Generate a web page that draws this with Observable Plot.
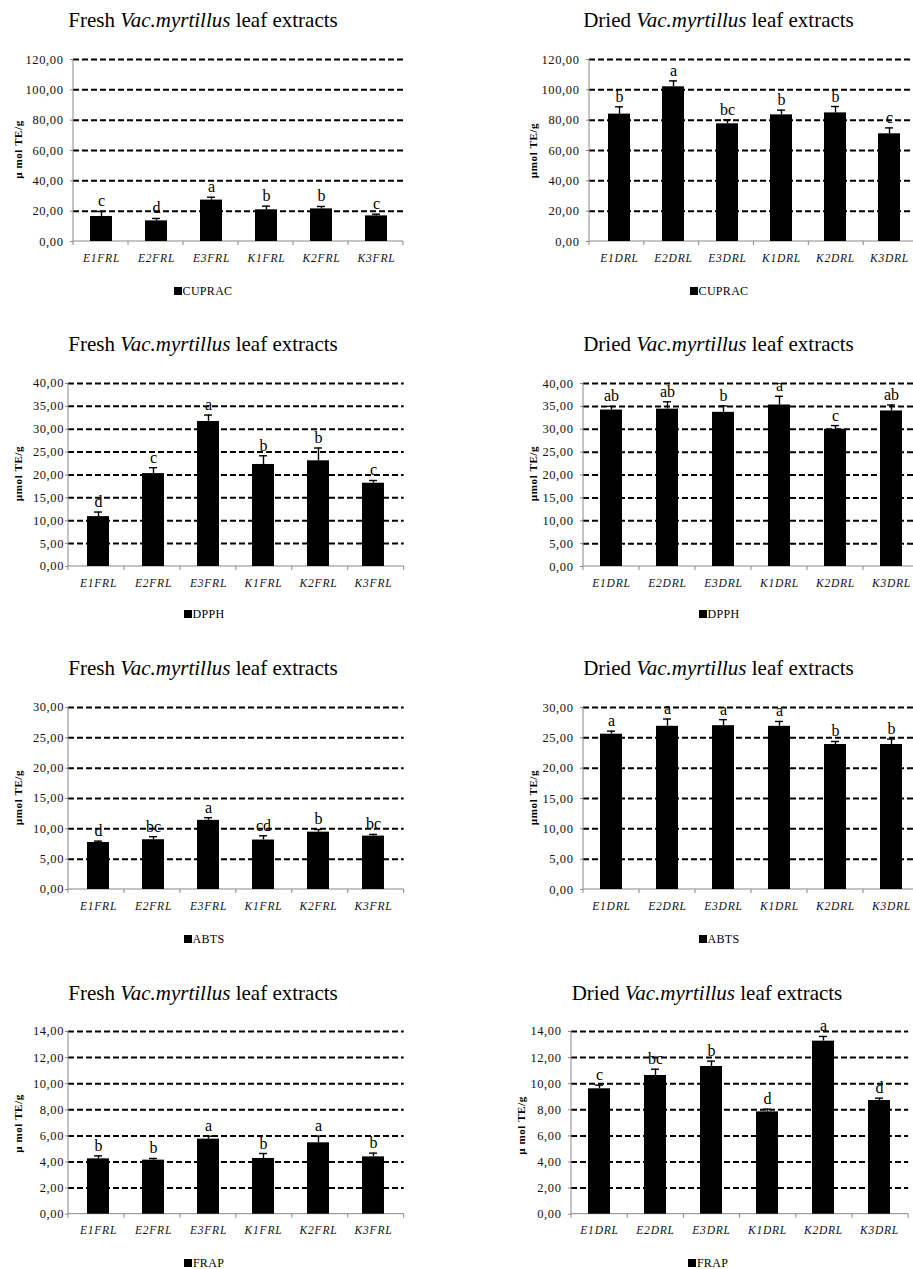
<!DOCTYPE html>
<html><head><meta charset="utf-8">
<script src="https://cdn.jsdelivr.net/npm/d3@7"></script>
<script src="https://cdn.jsdelivr.net/npm/@observablehq/plot@0.6"></script>
<style>
html,body{margin:0;padding:0;background:#fff;overflow:hidden;width:913px;height:1269px;}
#root{position:relative;width:913px;height:1269px;overflow:hidden;}
.panel{position:absolute;}
.serif{font-family:"Liberation Serif","Times New Roman",Times,Tinos,"DejaVu Serif",serif;}
.title{position:absolute;width:420px;text-align:center;font-size:21px;line-height:21px;white-space:nowrap;color:#000;}
.legend{position:absolute;width:200px;text-align:center;font-size:12px;line-height:12px;white-space:nowrap;color:#000;letter-spacing:0.3px;}
.legend .sw{display:inline-block;width:8px;height:8px;background:#000;margin-right:1px;vertical-align:baseline;}
.ylab{position:absolute;width:120px;height:11px;text-align:center;font-weight:bold;font-size:11px;line-height:11px;transform:rotate(-90deg);letter-spacing:0.6px;white-space:nowrap;color:#000;}
svg text{font-family:"Liberation Serif","Times New Roman",Times,Tinos,"DejaVu Serif",serif;}
svg [aria-label="y-axis tick label"]{letter-spacing:0.6px;}
svg [aria-label="x-axis tick label"]{letter-spacing:0.8px;}
svg [aria-label="y-axis tick"]{stroke:#888;}
</style>
</head><body><div id="root"></div>
<script>
// ---------- data ----------
const freshCategories = ["E1FRL","E2FRL","E3FRL","K1FRL","K2FRL","K3FRL"];
const driedCategories = ["E1DRL","E2DRL","E3DRL","K1DRL","K2DRL","K3DRL"];

const cupracTicks = [0,20,40,60,80,100,120];
const dpphTicks = [0,5,10,15,20,25,30,35,40];
const abtsTicks = [0,5,10,15,20,25,30];
const frapTicks = [0,2,4,6,8,10,12,14];

const cupracFreshMean = [16.5,13.6,27.3,20.9,21.5,16.9];
const cupracFreshSD = [3.3,1.6,1.9,2.4,1.6,1.1];
const cupracFreshLetters = ["c","d","a","b","b","c"];

const cupracDriedMean = [84.0,102.0,77.6,83.5,84.8,71.0];
const cupracDriedSD = [4.8,3.9,2.6,3.1,4.2,3.9];
const cupracDriedLetters = ["b","a","bc","b","b","c"];

const dpphFreshMean = [10.9,20.3,31.7,22.3,23.1,18.2];
const dpphFreshSD = [1.0,1.3,1.4,1.9,2.8,0.6];
const dpphFreshLetters = ["d","c","a","b","b","c"];

const dpphDriedMean = [34.2,34.4,33.7,35.3,30.0,34.0];
const dpphDriedSD = [0.8,1.6,1.4,1.9,0.8,1.3];
const dpphDriedLetters = ["ab","ab","b","a","c","ab"];

const abtsFreshMean = [7.75,8.2,11.4,8.15,9.45,8.8];
const abtsFreshSD = [0.22,0.5,0.44,0.7,0.44,0.28];
const abtsFreshLetters = ["d","bc","a","cd","b","bc"];

const abtsDriedMean = [25.6,26.9,27.0,26.9,23.9,23.9];
const abtsDriedSD = [0.5,1.2,1.0,0.8,0.5,0.9];
const abtsDriedLetters = ["a","a","a","a","b","b"];

const frapFreshMean = [4.24,4.14,5.75,4.27,5.47,4.39];
const frapFreshSD = [0.23,0.13,0.23,0.38,0.51,0.29];
const frapFreshLetters = ["b","b","a","b","a","b"];

const frapDriedMean = [9.61,10.63,11.32,7.84,13.26,8.71];
const frapDriedSD = [0.28,0.48,0.41,0.21,0.36,0.18];
const frapDriedLetters = ["c","bc","b","d","a","d"];

const freshTitle = "Fresh <i>Vac.myrtillus</i> leaf extracts";
const driedTitle = "Dried <i>Vac.myrtillus</i> leaf extracts";

// ---------- layout ----------
const panels = [
  {cats:freshCategories, mean:cupracFreshMean, sd:cupracFreshSD, letters:cupracFreshLetters, ticks:cupracTicks, series:"CUPRAC", title:freshTitle, ylab:"µ mol TE/g",
   ax:73.3, w:330, top:58.7, h:182, tp:7, ylx:17.5, yly:149, tcx:203, tby:28, lcx:203, lby:295},
  {cats:driedCategories, mean:cupracDriedMean, sd:cupracDriedSD, letters:cupracDriedLetters, ticks:cupracTicks, series:"CUPRAC", title:driedTitle, ylab:"µmol TE/g",
   ax:589.3, w:329, top:58.7, h:182, tp:7, ylx:533, yly:150, tcx:718.5, tby:28, lcx:719, lby:295},
  {cats:freshCategories, mean:dpphFreshMean, sd:dpphFreshSD, letters:dpphFreshLetters, ticks:dpphTicks, series:"DPPH", title:freshTitle, ylab:"µmol TE/g",
   ax:67.7, w:335.7, top:382.7, h:183, tp:1.5, ylx:17.5, yly:473.5, tcx:203, tby:352, lcx:204, lby:618},
  {cats:driedCategories, mean:dpphDriedMean, sd:dpphDriedSD, letters:dpphDriedLetters, ticks:dpphTicks, series:"DPPH", title:driedTitle, ylab:"µmol TE/g",
   ax:582.7, w:336, top:382.7, h:183, tp:7, ylx:533, yly:473, tcx:718.5, tby:352, lcx:719, lby:618},
  {cats:freshCategories, mean:abtsFreshMean, sd:abtsFreshSD, letters:abtsFreshLetters, ticks:abtsTicks, series:"ABTS", title:freshTitle, ylab:"µmol TE/g",
   ax:67.7, w:335.7, top:707.3, h:182, tp:1.5, ylx:17.5, yly:797, tcx:203, tby:676, lcx:204, lby:943},
  {cats:driedCategories, mean:abtsDriedMean, sd:abtsDriedSD, letters:abtsDriedLetters, ticks:abtsTicks, series:"ABTS", title:driedTitle, ylab:"µmol TE/g",
   ax:582.7, w:336, top:707.3, h:182, tp:7, ylx:533, yly:797, tcx:718.5, tby:676, lcx:719, lby:943},
  {cats:freshCategories, mean:frapFreshMean, sd:frapFreshSD, letters:frapFreshLetters, ticks:frapTicks, series:"FRAP", title:freshTitle, ylab:"µ mol TE/g",
   ax:67.7, w:335.7, top:1031.3, h:182.7, tp:1.5, ylx:17.5, yly:1123, tcx:203, tby:1001, lcx:204, lby:1267},
  {cats:driedCategories, mean:frapDriedMean, sd:frapDriedSD, letters:frapDriedLetters, ticks:frapTicks, series:"FRAP", title:driedTitle, ylab:"µ mol TE/g",
   ax:571, w:337.2, top:1031.3, h:182.7, tp:7, ylx:521, yly:1125, tcx:707, tby:1001, lcx:708, lby:1267}
];

const root = document.getElementById("root");
const ML = 55, MR = 5, MT = 20, MB = 30;
const SERIF = '"Liberation Serif", "Times New Roman", Times, Tinos, "DejaVu Serif", serif';
const fmt = d => d.toFixed(2).replace(".", ",");

function frameMark(n) {
  return (index, scales, values, dims) => {
    const g = d3.create("svg:g").attr("stroke", "#888").attr("stroke-width", 1).attr("fill", "none");
    const x0 = dims.marginLeft, x1 = dims.width - dims.marginRight;
    const y0 = dims.marginTop, y1 = dims.height - dims.marginBottom;
    g.append("line").attr("x1", x0).attr("x2", x0).attr("y1", y0).attr("y2", y1);
    g.append("line").attr("x1", x0).attr("x2", x1).attr("y1", y1).attr("y2", y1);
    for (let i = 0; i <= n; i++) {
      const xx = x0 + i * (x1 - x0) / n;
      g.append("line").attr("x1", xx).attr("x2", xx).attr("y1", y1).attr("y2", y1 + 4);
    }
    return g.node();
  };
}

for (const p of panels) {
  const data = p.cats.map((c, i) => ({cat: c, mean: p.mean[i], top: p.mean[i] + p.sd[i], letter: p.letters[i]}));
  const ymax = p.ticks[p.ticks.length - 1];
  const chart = Plot.plot({
    width: p.w + ML + MR, height: p.h + MT + MB,
    marginLeft: ML, marginRight: MR, marginTop: MT, marginBottom: MB,
    style: {fontFamily: SERIF, fontSize: "12.5px", color: "#000", background: "transparent", overflow: "visible"},
    x: {domain: p.cats, paddingInner: 0.6, paddingOuter: 0.3},
    y: {domain: [0, ymax]},
    marks: [
      Plot.ruleY(p.ticks.slice(1), {stroke: "#000", strokeWidth: 2, strokeDasharray: "6,3"}),
      frameMark(p.cats.length),
      Plot.barY(data, {x: "cat", y: "mean", fill: "#000"}),
      Plot.ruleX(data, {x: "cat", y1: "mean", y2: "top", stroke: "#000", strokeWidth: 1.4}),
      Plot.tickY(data, {x: "cat", y: "top", stroke: "#000", strokeWidth: 1.4, insetLeft: 7, insetRight: 7}),
      Plot.text(data, {x: "cat", y: "top", text: "letter", dy: -5, lineAnchor: "bottom", fontSize: 16, fontFamily: SERIF, fill: "#000"}),
      Plot.axisY({ticks: p.ticks, tickFormat: fmt, tickSize: 3, tickPadding: p.tp, label: null, fill: "#111", fontFamily: SERIF}),
      Plot.axisX({tickSize: 0, tickPadding: 12, fontStyle: "italic", fontSize: 11.5, fontFamily: SERIF, label: null, fill: "#111"})
    ]
  });
  chart.classList.add("panel");
  chart.style.left = (p.ax - ML) + "px";
  chart.style.top = (p.top - MT) + "px";
  root.appendChild(chart);

  const t = document.createElement("div");
  t.className = "title serif";
  t.innerHTML = p.title;
  t.style.left = (p.tcx - 210) + "px";
  t.style.top = (p.tby - 17.6) + "px";
  root.appendChild(t);

  const lg = document.createElement("div");
  lg.className = "legend serif";
  lg.innerHTML = '<span class="sw"></span>' + p.series;
  lg.style.left = (p.lcx - 100) + "px";
  lg.style.top = (p.lby - 10) + "px";
  root.appendChild(lg);

  const yl = document.createElement("div");
  yl.className = "ylab serif";
  yl.textContent = p.ylab;
  yl.style.left = (p.ylx - 60) + "px";
  yl.style.top = (p.yly - 5.5) + "px";
  root.appendChild(yl);
}
</script>
</body></html>
